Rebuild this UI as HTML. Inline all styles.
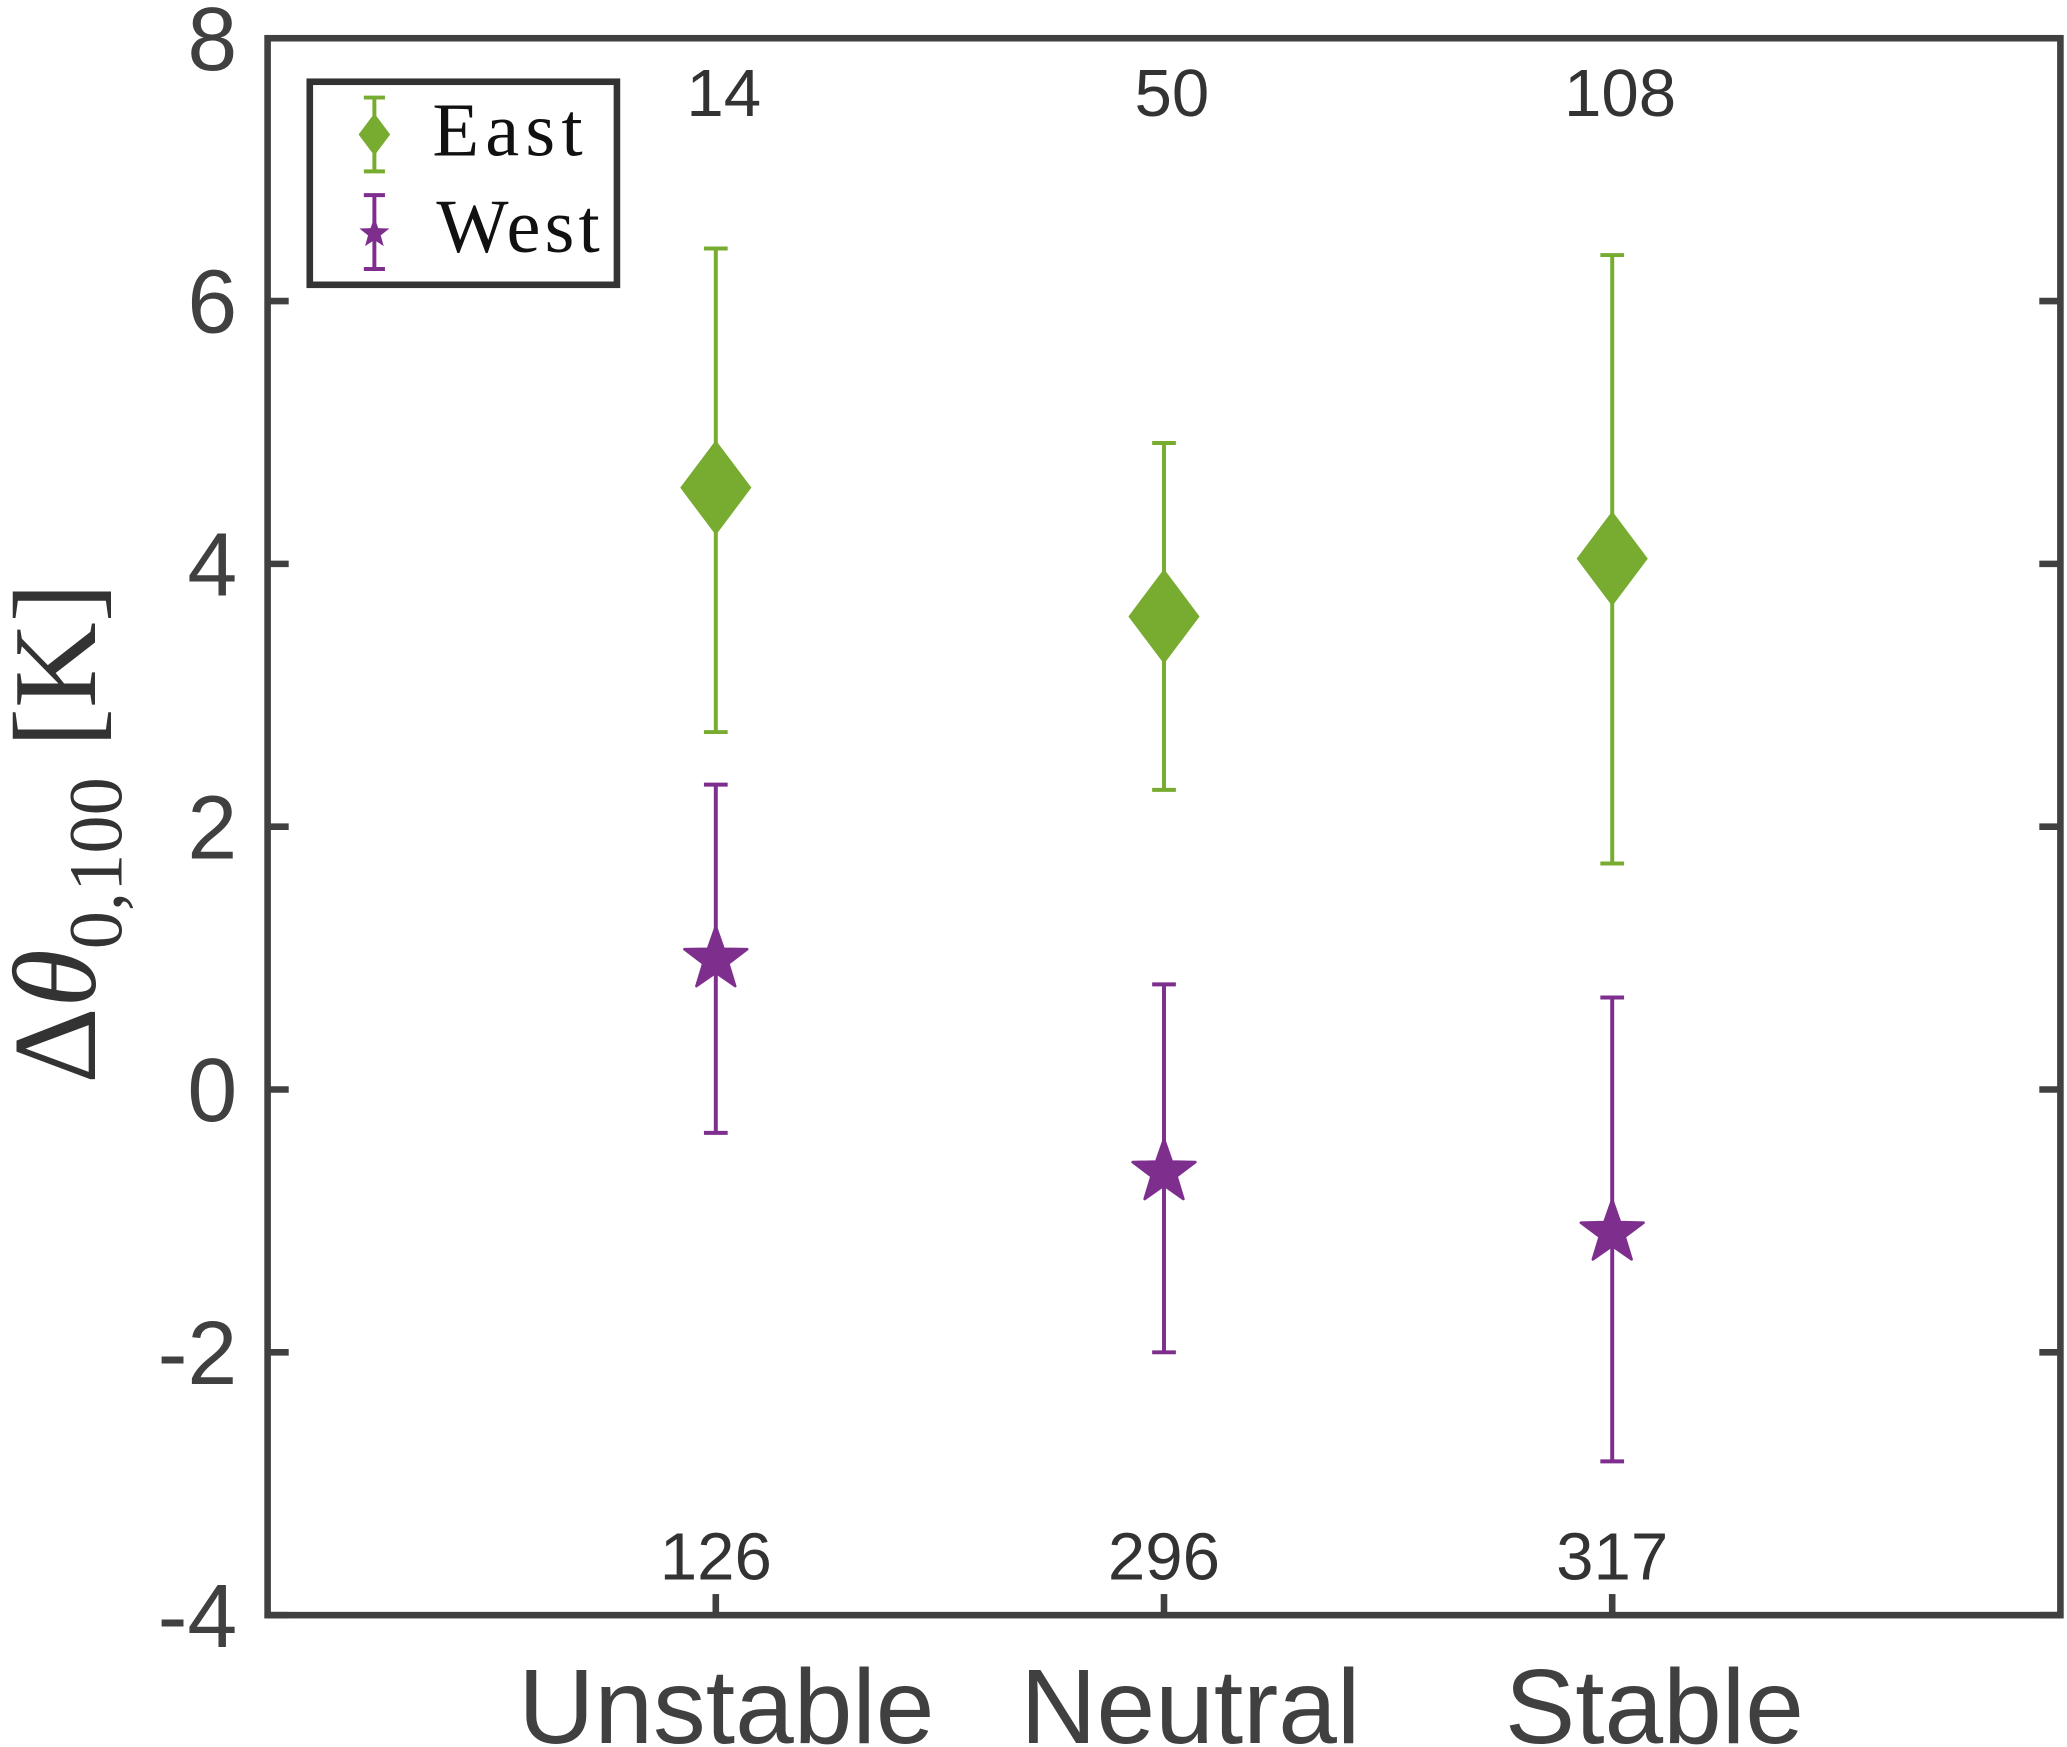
<!DOCTYPE html>
<html><head><meta charset="utf-8"><style>
html,body{margin:0;padding:0;background:#fff;}
svg{display:block;}
</style></head><body>
<svg id="chart" width="2067" height="1747" viewBox="0 0 1568 1325" preserveAspectRatio="none" xmlns="http://www.w3.org/2000/svg">
<g id="plot"></g>
</svg>
<script>
const categories = ["Unstable","Neutral","Stable"];
const eastMean = [4.58, 3.6, 4.04];
const eastUpper = [6.4, 4.92, 6.35];
const eastLower = [2.72, 2.28, 1.72];
const westMean = [1.02, -0.6, -1.06];
const westUpper = [2.32, 0.8, 0.7];
const westLower = [-0.33, -2.0, -2.83];
const eastCounts = ["14","50","108"];
const westCounts = ["126","296","317"];
const yTicks = [-4,-2,0,2,4,6,8];

const L=203,R=1563,T=29,B=1225;
const xs = i => L + (R-L)*(i+1)/4;
const ys = v => B - (v-(-4))/12*(B-T);
const NS="http://www.w3.org/2000/svg";
const g=document.getElementById('plot');
function mk(tag,attrs,parent){const e=document.createElementNS(NS,tag);for(const k in attrs)e.setAttribute(k,attrs[k]);(parent||g).appendChild(e);return e;}
const AX="#404040";
const GREEN="#77AC30", PURPLE="#7E2F8E";

yTicks.forEach(v=>{
  const y=ys(v);
  const t1=mk('line',{x1:L,x2:L+16,y1:y,y2:y,stroke:AX,'stroke-width':5});
  
  
  const t2=mk('line',{x1:R-16,x2:R,y1:y,y2:y,stroke:AX,'stroke-width':5});
  
  
  const tx=mk('text',{x:180,y:y+24,'text-anchor':'end','font-family':'Liberation Sans, sans-serif','font-size':68,fill:AX});
  tx.textContent=String(v);
  
  
});
categories.forEach((c,i)=>{
  const x=xs(i);
  const t1=mk('line',{x1:x,x2:x,y1:B,y2:B-16,stroke:AX,'stroke-width':5});
  
  
  const tx=mk('text',{x:x+8+12*i,y:1322,'text-anchor':'middle','font-family':'Liberation Sans, sans-serif','font-size':80,fill:AX});
  tx.textContent=c;
  
  
  const a=mk('text',{x:x+6,y:88,'text-anchor':'middle','font-family':'Liberation Sans, sans-serif','font-size':51,fill:'#333'});
  a.textContent=eastCounts[i];
  
  
  const b=mk('text',{x:x,y:1198,'text-anchor':'middle','font-family':'Liberation Sans, sans-serif','font-size':51,fill:'#333'});
  b.textContent=westCounts[i];
  
  
});

function errbar(x,lo,hi,col,name){
  const e=mk('g',{});
  
  
  mk('line',{x1:x,x2:x,y1:ys(lo),y2:ys(hi),stroke:col,'stroke-width':3},e);
  mk('line',{x1:x-9,x2:x+9,y1:ys(lo),y2:ys(lo),stroke:col,'stroke-width':3},e);
  mk('line',{x1:x-9,x2:x+9,y1:ys(hi),y2:ys(hi),stroke:col,'stroke-width':3},e);
}
function starPts(cx,cy,ro,ri){let p=[];for(let k=0;k<10;k++){const r=k%2?ri:ro;const a=-Math.PI/2+k*Math.PI/5;p.push((cx+r*Math.cos(a)).toFixed(1)+','+(cy+r*Math.sin(a)).toFixed(1));}return p.join(' ');}

categories.forEach((c,i)=>{
  const x=xs(i);
  errbar(x,eastLower[i],eastUpper[i],GREEN,'east-errorbar');
  const y=ys(eastMean[i]);
  const d=mk('polygon',{points:`${x},${y-36} ${x+27},${y} ${x},${y+36} ${x-27},${y}`,fill:GREEN});
  
  
  errbar(x,westLower[i],westUpper[i],PURPLE,'west-errorbar');
  const y2=ys(westMean[i]);
  const s=mk('polygon',{points:starPts(x,y2+3,25,10),fill:PURPLE,stroke:PURPLE,'stroke-width':2,'stroke-linejoin':'round'});
  
  
});

const box=mk('rect',{x:L,y:T,width:R-L,height:B-T,fill:'none',stroke:AX,'stroke-width':5});



const yl=mk('text',{transform:'translate(72,632) rotate(-90)','text-anchor':'middle','font-family':'Liberation Serif, serif','font-size':90,fill:'#333'});


yl.innerHTML='Δ<tspan font-style="italic">θ</tspan><tspan font-size="58" dy="20">0,100</tspan><tspan dy="-20"> [K]</tspan>';

const lg=mk('g',{});


mk('rect',{x:235,y:62,width:233,height:154,fill:'#fff',stroke:'#333','stroke-width':5},lg);
const le=mk('g',{},lg);


mk('line',{x1:284,x2:284,y1:74,y2:130,stroke:GREEN,'stroke-width':3},le);
mk('line',{x1:276,x2:292,y1:74,y2:74,stroke:GREEN,'stroke-width':3},le);
mk('line',{x1:276,x2:292,y1:130,y2:130,stroke:GREEN,'stroke-width':3},le);
mk('polygon',{points:'284,86 296,102 284,118 272,102',fill:GREEN},le);
const te=mk('text',{x:328,y:118,'font-family':'Liberation Serif, serif','font-size':58,'textLength':114,fill:'#111'},le);te.textContent='East';
const lw=mk('g',{},lg);


mk('line',{x1:284,x2:284,y1:148,y2:204,stroke:PURPLE,'stroke-width':3},lw);
mk('line',{x1:276,x2:292,y1:148,y2:148,stroke:PURPLE,'stroke-width':3},lw);
mk('line',{x1:276,x2:292,y1:204,y2:204,stroke:PURPLE,'stroke-width':3},lw);
mk('polygon',{points:starPts(284,177,12,5),fill:PURPLE},lw);
const tw=mk('text',{x:331,y:191,'font-family':'Liberation Serif, serif','font-size':58,'textLength':124,fill:'#111'},lw);tw.textContent='West';
</script>
</body></html>
